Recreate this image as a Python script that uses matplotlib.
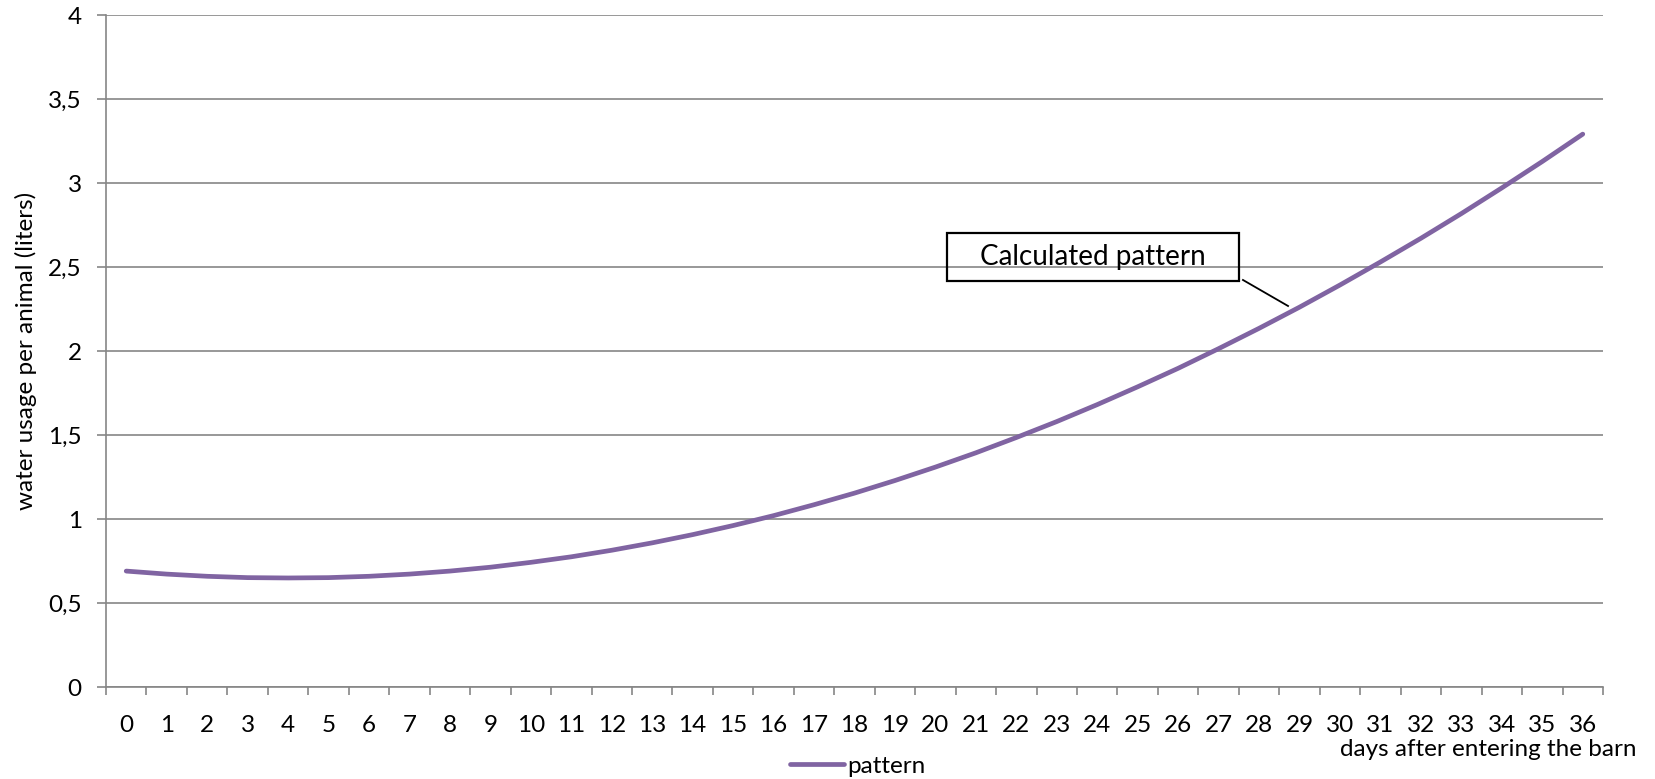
import matplotlib
matplotlib.use("Agg")
import matplotlib.pyplot as plt
from matplotlib.patches import Rectangle

plt.rcParams['font.family'] = ['Lato', 'DejaVu Sans']

days = list(range(0, 37))
usage = [0.690, 0.672, 0.659, 0.651, 0.649, 0.651, 0.659, 0.672, 0.690, 0.713,
         0.742, 0.775, 0.814, 0.858, 0.907, 0.961, 1.020, 1.085, 1.154, 1.229,
         1.309, 1.394, 1.485, 1.580, 1.681, 1.787, 1.897, 2.014, 2.135, 2.261,
         2.393, 2.530, 2.671, 2.818, 2.971, 3.128, 3.291]
y_ticks = [0, 0.5, 1, 1.5, 2, 2.5, 3, 3.5, 4]
y_labels = ['0', '0,5', '1', '1,5', '2', '2,5', '3', '3,5', '4']

W, H = 1655, 779
fig = plt.figure(figsize=(W / 100, H / 100), dpi=100)
ax = fig.add_axes([106 / W, 1 - 687 / H, (1603 - 106) / W, (687 - 15) / H])

grid_col = '#868686'
purple = '#8064A2'
fs = 17.5

ax.plot(days, usage, color=purple, lw=3.4, solid_capstyle='round', label='pattern', zorder=3)

ax.set_xlim(-0.5, 36.5)
ax.set_ylim(0, 4)
ax.set_yticks(y_ticks)
ax.set_yticklabels(y_labels, fontsize=fs)
ax.set_xticks(days)
ax.set_xticklabels([str(d) for d in days], fontsize=fs)
ax.set_xticks([d - 0.5 for d in days] + [36.5], minor=True)
ax.tick_params(axis='x', which='major', length=0, pad=20)
ax.tick_params(axis='x', which='minor', length=6, width=1.2, color=grid_col, direction='out')
ax.tick_params(axis='y', length=6.5, width=1.2, color=grid_col, pad=11)

ax.grid(axis='y', color=grid_col, lw=1.2)
ax.set_axisbelow(True)
for s in ['top', 'right']:
    ax.spines[s].set_visible(False)
for s in ['left', 'bottom']:
    ax.spines[s].set_color(grid_col)
    ax.spines[s].set_linewidth(1.2)

# annotation box and leader line
ax.add_patch(Rectangle((0.5618, 0.604), 0.195, 0.0714, transform=ax.transAxes,
                       fill=True, facecolor='none', edgecolor='black', lw=1.6,
                       clip_on=False, zorder=4))
ax.text(0.5618 + 0.0975, 0.604 + 0.0357, 'Calculated pattern', transform=ax.transAxes,
        ha='center', va='center', fontsize=20, zorder=5)
ax.plot([0.7595, 0.7896], [0.6057, 0.567], transform=ax.transAxes, color='black', lw=1.3,
        clip_on=False, zorder=4)

fig.text(26 / W, 1 - 351 / H, 'water usage per animal (liters)', rotation=90,
         ha='center', va='center', fontsize=fs)
fig.text(1637 / W, 1 - 750 / H, 'days after entering the barn', ha='right', va='center',
         fontsize=fs)

fig.legend(loc='center', bbox_to_anchor=(858 / W, 1 - 766 / H), frameon=False,
           fontsize=fs, handlelength=2.2, handletextpad=0.15, borderpad=0)

fig.savefig('out.png', dpi=100)
